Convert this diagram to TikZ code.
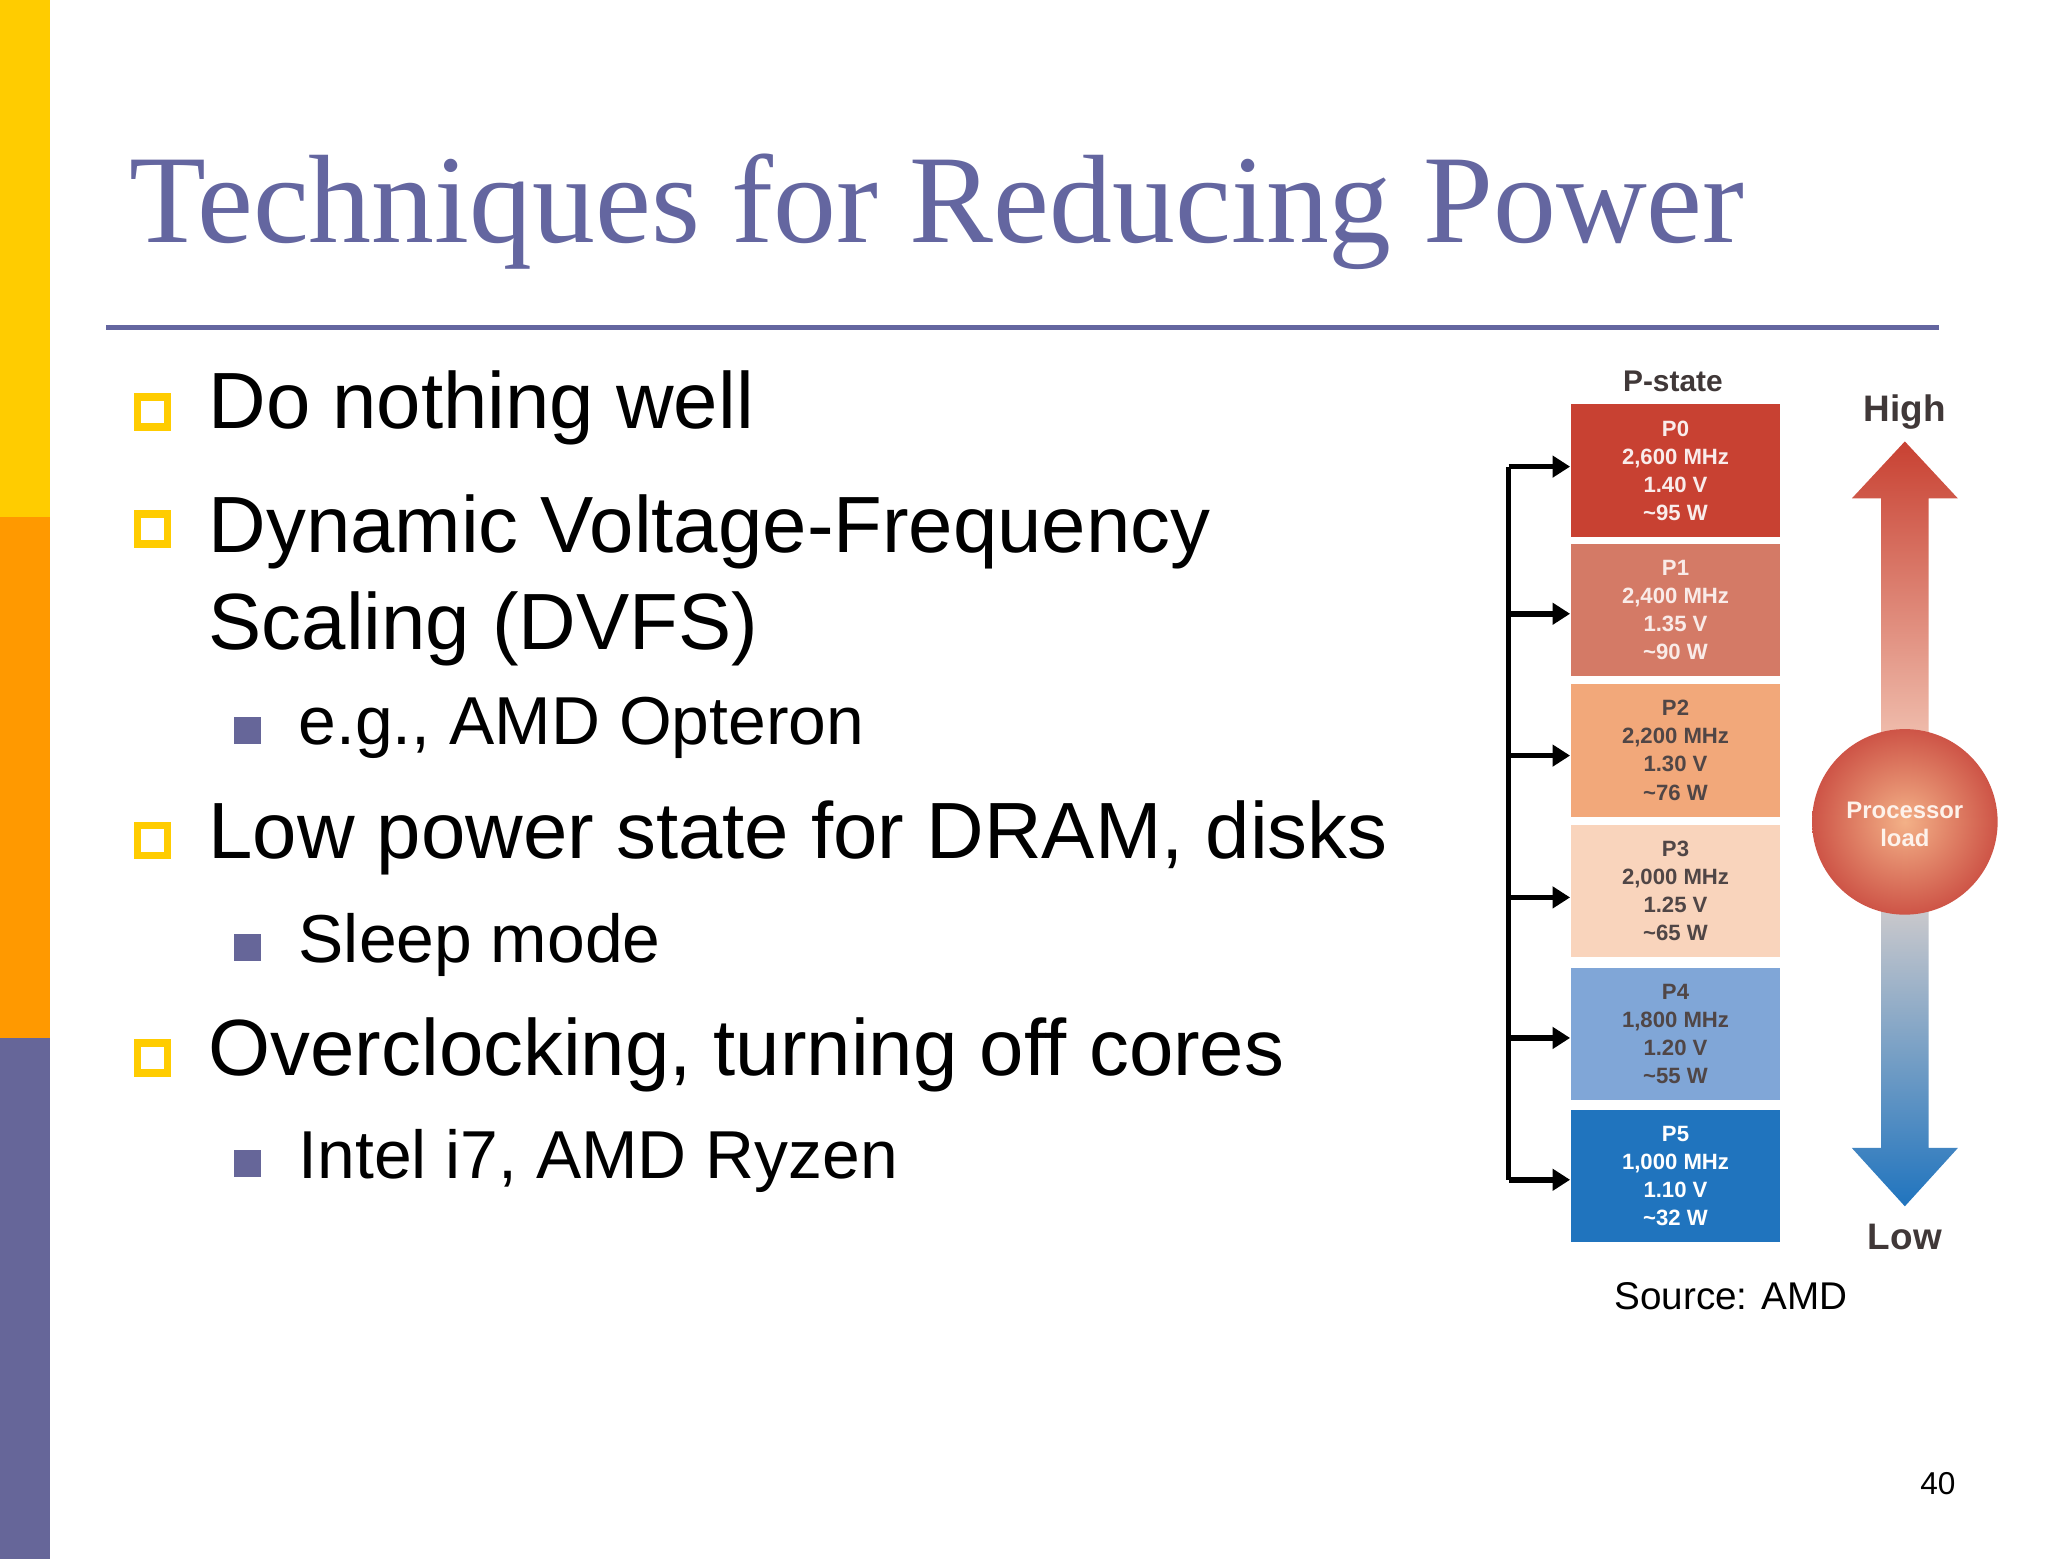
\documentclass[tikz,border=0pt]{standalone}
\usepackage{fontspec}
\setmainfont{Liberation Serif}
\newfontfamily\arial{Liberation Sans}
\usetikzlibrary{arrows.meta}
\definecolor{ttl}{RGB}{100,102,160}
\definecolor{barY}{RGB}{255,204,0}
\definecolor{barO}{RGB}{255,153,0}
\definecolor{barP}{RGB}{102,102,153}
\definecolor{c0}{RGB}{200,65,50}
\definecolor{c1}{RGB}{212,122,102}
\definecolor{c2}{RGB}{242,168,122}
\definecolor{c3}{RGB}{249,212,188}
\definecolor{c4}{RGB}{128,166,215}
\definecolor{c5}{RGB}{32,116,190}
\definecolor{dk}{RGB}{80,70,70}
\tikzset{
  pbox/.style={minimum width=158*0.013256cm, minimum height=100*0.013256cm, inner sep=0pt, align=center, font=\arial\bfseries\fontsize{6.3}{8}\selectfont},
  hb/.style={draw=barY, line width=2.2pt, minimum size=0.3cm, inner sep=0pt},
  sb/.style={fill=barP, minimum size=0.27cm, inner sep=0pt},
  bt/.style={anchor=west, font=\arial\fontsize{22.7}{27.5}\selectfont, align=left},
  st/.style={anchor=west, font=\arial\fontsize{19.3}{23}\selectfont},
  arr/.style={-{Triangle[length=5pt,width=6pt]}, line width=1.6pt}
}
\begin{document}
\begin{tikzpicture}[x=0.013256cm,y=-0.013256cm]
\useasboundingbox (0,0) rectangle (1545,1176);
\fill[white] (0,0) rectangle (1545,1176);
\fill[barY] (0,0) rectangle (38,390);
\fill[barO] (0,390) rectangle (38,783);
\fill[barP] (0,783) rectangle (38,1176);
\node[anchor=west, text=ttl, font=\fontsize{35.8}{42}\selectfont] (title) at (88,160) {Techniques for Reducing Power};
\draw[ttl, line width=1.5pt] (80,247) -- (1463,247);
% bullets
\node[hb] (b1) at (115,311) {};
\node[bt] (t1) at (148,308) {Do nothing well};
\node[hb] (b2) at (115,399) {};
\node[bt, anchor=north west] (t2) at (148,364) {Dynamic Voltage-Frequency\\Scaling (DVFS)};
\node[sb] (s1) at (187,551) {};
\node[st] (u1) at (216,549) {e.g., AMD Opteron};
\node[hb] (b3) at (115,634) {};
\node[bt] (t3) at (148,632) {Low power state for DRAM, disks};
\node[sb] (s2) at (187,715) {};
\node[st] (u2) at (216,713) {Sleep mode};
\node[hb] (b4) at (115,798) {};
\node[bt] (t4) at (148,796) {Overclocking, turning off cores};
\node[sb] (s3) at (187,878) {};
\node[st] (u3) at (216,876) {Intel i7, AMD Ryzen};
% diagram
\node[font=\arial\bfseries\fontsize{8.5}{10}\selectfont, text=dk!80!black] (ps) at (1262,288) {P-state};
\node[pbox, fill=c0, text=white!90!c0] (p0) at (1264,355) {P0\\2,600 MHz\\1.40 V\\\textasciitilde95 W};
\node[pbox, fill=c1, text=white!85!c1] (p1) at (1264,460) {P1\\2,400 MHz\\1.35 V\\\textasciitilde90 W};
\node[pbox, fill=c2, text=dk] (p2) at (1264,566) {P2\\2,200 MHz\\1.30 V\\\textasciitilde76 W};
\node[pbox, fill=c3, text=dk] (p3) at (1264,672) {P3\\2,000 MHz\\1.25 V\\\textasciitilde65 W};
\node[pbox, fill=c4, text=dk] (p4) at (1264,780) {P4\\1,800 MHz\\1.20 V\\\textasciitilde55 W};
\node[pbox, fill=c5, text=white] (p5) at (1264,887) {P5\\1,000 MHz\\1.10 V\\\textasciitilde32 W};
\coordinate (k0) at (1138,352);
\coordinate (k5) at (1138,890);
\draw[line width=1.6pt] (k0) -- (k5);
\foreach \i/\yy in {0/352,1/463,2/570,3/677,4/783,5/890}{
  \coordinate (a\i) at (1138,\yy);
  \draw[arr] (a\i) -- (p\i.west |- a\i);
}
% load arrow
\shade[top color=c0, bottom color=c5, middle color=c3!70!white]
 (1437,333) -- (1477,376) -- (1455,376) -- (1455,866) -- (1477,866) -- (1437,910)
 -- (1397,866) -- (1419,866) -- (1419,376) -- (1397,376) -- cycle;
\shade[inner color=c2!90!white, outer color=c0!90!white] (1437,620) circle (70);
\node[font=\arial\bfseries\fontsize{6.8}{8}\selectfont, text=white!85!c2, align=center] (pl) at (1437,622) {Processor\\load};
\node[font=\arial\bfseries\fontsize{10.5}{13}\selectfont, text=dk!80!black] (hi) at (1437,311) {High};
\node[font=\arial\bfseries\fontsize{10.5}{13}\selectfont, text=dk!80!black] (lo) at (1437,933) {Low};
\node[font=\arial\fontsize{11}{13}\selectfont] (src) at (1306,978) {Source: AMD};
\node[font=\arial\fontsize{9}{11}\selectfont] (pg) at (1462,1119) {40};
\end{tikzpicture}
\end{document}
